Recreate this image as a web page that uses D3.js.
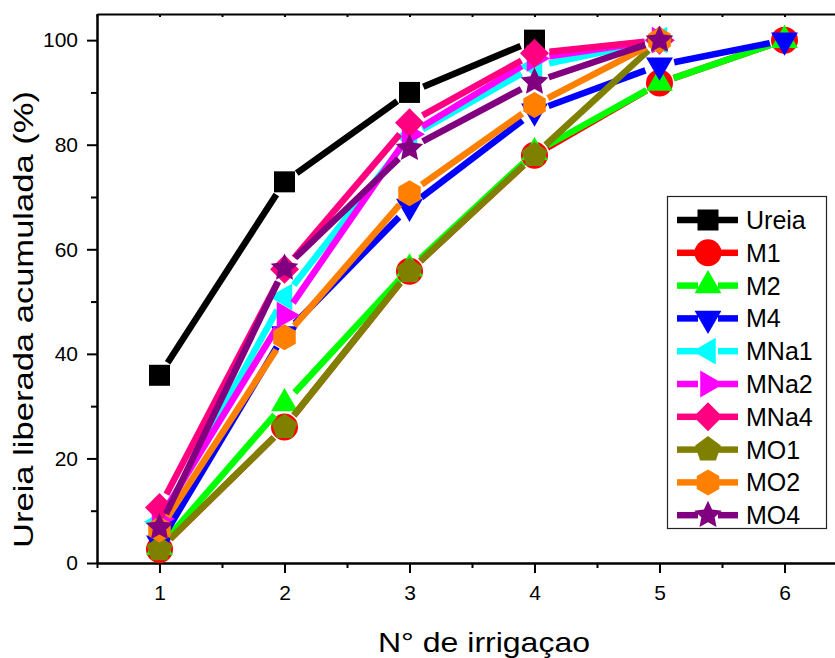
<!DOCTYPE html>
<html>
<head>
<meta charset="utf-8">
<script src="https://cdn.jsdelivr.net/npm/d3@7"></script>
<style>
    body { margin: 0; background: #fff; }
    text { font-family: "Liberation Sans", Arial, sans-serif; fill: #000; }
</style>
</head>
<body>
<div id="chart-container"></div>
<script>

// LINE CHART - ureia liberada

// Data

var irrigations = [1, 2, 3, 4, 5, 6];
var seriesNames = ["Ureia", "M1", "M2", "M4", "MNa1", "MNa2", "MNa4", "MO1", "MO2", "MO4"];

var ureia = [35.9, 72.9, 90.0, 100];
var m1    = [2.6, 26.0, 55.8, 78.0, 91.8, 100];
var m2    = [3.0, 30.5, 56.3, 78.5, 91.8, 100];
var m4    = [3.8, 43.8, 68.2, 86.4, 95.2, 100];
var mna1  = [7.9, 50.9, 81.5, 95.0, 100];
var mna2  = [8.4, 47.4, 82.0, 96.5, 100];
var mna4  = [10.6, 56.2, 84.2, 97.5, 100];
var mo1   = [2.6, 26.0, 55.8, 78.0, 100];
var mo2   = [6.4, 43.2, 70.7, 87.6, 100];
var mo4   = [6.8, 56.4, 79.3, 92.0, 100];

var xTicks = [1, 2, 3, 4, 5, 6];
var yTicks = [0, 20, 40, 60, 80, 100];

var seriesValues = [ureia, m1, m2, m4, mna1, mna2, mna4, mo1, mo2, mo4];
var colors = ["#000000", "#ff0000", "#00ff00", "#0000ff", "#00ffff",
              "#ff00ff", "#ff0080", "#808000", "#ff8000", "#800080"];
var shapes = ["square", "circle", "up", "down", "left", "right", "diamond", "pentagon", "hexagon", "star"];

// Chart variables

var width = 835;
var height = 658;
var plot = {left: 97, top: 14, right: 847, bottom: 563};   // right side runs off the picture
var gap = 15;                                               // line stops short of the symbols

var svg = d3.select("#chart-container")
            .append("svg")
            .attr("width", width)
            .attr("height", height);

// Scales

var xScale = d3.scaleLinear()
               .domain([0.5, 6.5])
               .range([plot.left, plot.right]);

var yScale = d3.scaleLinear()
               .domain([0, 105])
               .range([plot.bottom, plot.top]);

// Symbol shapes

function polygon(n, r, start) {
    var pts = [];
    for (var i = 0; i < n; i++) {
        var a = start + i * 2 * Math.PI / n;
        pts.push([r * Math.cos(a), r * Math.sin(a)]);
    }
    return "M" + pts.join("L") + "Z";
}

function starPath(outer, inner) {
    var pts = [];
    for (var i = 0; i < 10; i++) {
        var r = (i % 2 === 0) ? outer : inner;
        var a = -Math.PI / 2 + i * Math.PI / 5;
        pts.push([r * Math.cos(a), r * Math.sin(a)]);
    }
    return "M" + pts.join("L") + "Z";
}

function markerPath(shape) {
    var deg = Math.PI / 180;
    if (shape === "square")   return "M-10.5,-10.5H10.5V10.5H-10.5Z";
    if (shape === "circle")   return d3.symbol().type(d3.symbolCircle).size(Math.PI * 13.5 * 13.5)();
    if (shape === "up")       return polygon(3, 15.5, -90 * deg);
    if (shape === "down")     return polygon(3, 15.5, 90 * deg);
    if (shape === "left")     return polygon(3, 15.5, 180 * deg);
    if (shape === "right")    return polygon(3, 15.5, 0);
    if (shape === "diamond")  return polygon(4, 14.5, -90 * deg);
    if (shape === "pentagon") return polygon(5, 13.5, -90 * deg);
    if (shape === "hexagon")  return polygon(6, 13, -90 * deg);
    return starPath(14.5, 7);
}

// Axes

var axisFont = 21;

var xAxis = d3.axisBottom(xScale).tickValues(xTicks).tickSize(10).tickSizeOuter(0).tickPadding(12).tickFormat(d3.format("d"));
var xMinor = d3.axisBottom(xScale).tickValues([0.5, 1.5, 2.5, 3.5, 4.5, 5.5, 6.5]).tickSize(5).tickSizeOuter(0).tickFormat("");
var xTop = d3.axisTop(xScale).tickValues(d3.range(0.5, 6.51, 0.5)).tickSize(-3).tickSizeOuter(0).tickFormat("");
var yAxis = d3.axisLeft(yScale).tickValues(yTicks).tickSize(10).tickSizeOuter(0).tickPadding(9).tickFormat(d3.format("d"));
var yMinor = d3.axisLeft(yScale).tickValues([10, 30, 50, 70, 90]).tickSize(6).tickSizeOuter(0).tickFormat("");

function styleAxis(g) {
    g.select(".domain").attr("stroke", "#000").attr("stroke-width", 2);
    g.selectAll(".tick line").attr("stroke", "#000").attr("stroke-width", 2);
    g.selectAll(".tick text").attr("font-size", axisFont).attr("font-family", "Liberation Sans, Arial, sans-serif");
}

svg.append("g").attr("transform", "translate(0," + plot.bottom + ")").call(xMinor).call(styleAxis);
svg.append("g").attr("transform", "translate(0," + plot.bottom + ")").call(xAxis).call(styleAxis);
svg.append("g").attr("transform", "translate(0," + plot.top + ")").call(xTop).call(styleAxis);
svg.append("g").attr("transform", "translate(" + plot.left + ",0)").call(yMinor).call(styleAxis);
svg.append("g").attr("transform", "translate(" + plot.left + ",0)").call(yAxis).call(styleAxis);

// Axis titles (glyphs are a bit stretched in the original)

svg.append("text")
   .attr("x", 378)
   .attr("y", 652)
   .attr("font-size", 28)
   .attr("textLength", 212)
   .attr("lengthAdjust", "spacingAndGlyphs")
   .text("N° de irrigaçao");

svg.append("text")
   .attr("transform", "translate(33,548) rotate(-90)")
   .attr("font-size", 28)
   .attr("textLength", 457)
   .attr("lengthAdjust", "spacingAndGlyphs")
   .text("Ureia liberada acumulada (%)");

// Lines and symbols, one series after the other

seriesValues.forEach(function(values, s) {

    var pts = values.map(function(v, i) {
        return [xScale(irrigations[i]), yScale(v)];
    });

    var segs = [];
    for (var i = 0; i < pts.length - 1; i++) {
        var dx = pts[i + 1][0] - pts[i][0];
        var dy = pts[i + 1][1] - pts[i][1];
        var len = Math.sqrt(dx * dx + dy * dy);
        if (len <= 2 * gap) continue;
        var ux = dx / len, uy = dy / len;
        segs.push([pts[i][0] + ux * gap, pts[i][1] + uy * gap,
                   pts[i + 1][0] - ux * gap, pts[i + 1][1] - uy * gap]);
    }

    var g = svg.append("g");

    g.selectAll("line")
     .data(segs)
     .enter()
     .append("line")
     .attr("x1", function(d) { return d[0]; })
     .attr("y1", function(d) { return d[1]; })
     .attr("x2", function(d) { return d[2]; })
     .attr("y2", function(d) { return d[3]; })
     .attr("stroke", colors[s])
     .attr("stroke-width", 6.5);

    g.selectAll("path")
     .data(pts)
     .enter()
     .append("path")
     .attr("d", markerPath(shapes[s]))
     .attr("transform", function(d) { return "translate(" + d[0] + "," + d[1] + ")"; })
     .attr("fill", colors[s]);
});

// Legend

var legend = svg.append("g");

legend.append("rect")
      .attr("x", 667.5)
      .attr("y", 196.5)
      .attr("width", 159)
      .attr("height", 332)
      .attr("fill", "#fff")
      .attr("stroke", "#222")
      .attr("stroke-width", 1.2);

var rows = legend.selectAll(".row")
                 .data(seriesNames)
                 .enter()
                 .append("g")
                 .attr("transform", function(d, i) { return "translate(708," + (220 + i * 32.8) + ")"; });

rows.append("line")
    .attr("x1", -31).attr("x2", -10)
    .attr("stroke", function(d, i) { return colors[i]; })
    .attr("stroke-width", 6.5);

rows.append("line")
    .attr("x1", 10).attr("x2", 30)
    .attr("stroke", function(d, i) { return colors[i]; })
    .attr("stroke-width", 6.5);

rows.append("path")
    .attr("d", function(d, i) { return markerPath(shapes[i]); })
    .attr("fill", function(d, i) { return colors[i]; });

rows.append("text")
    .attr("x", 38)
    .attr("dy", "0.36em")
    .attr("font-size", 25)
    .text(function(d) { return d; });

</script>
</body>
</html>
